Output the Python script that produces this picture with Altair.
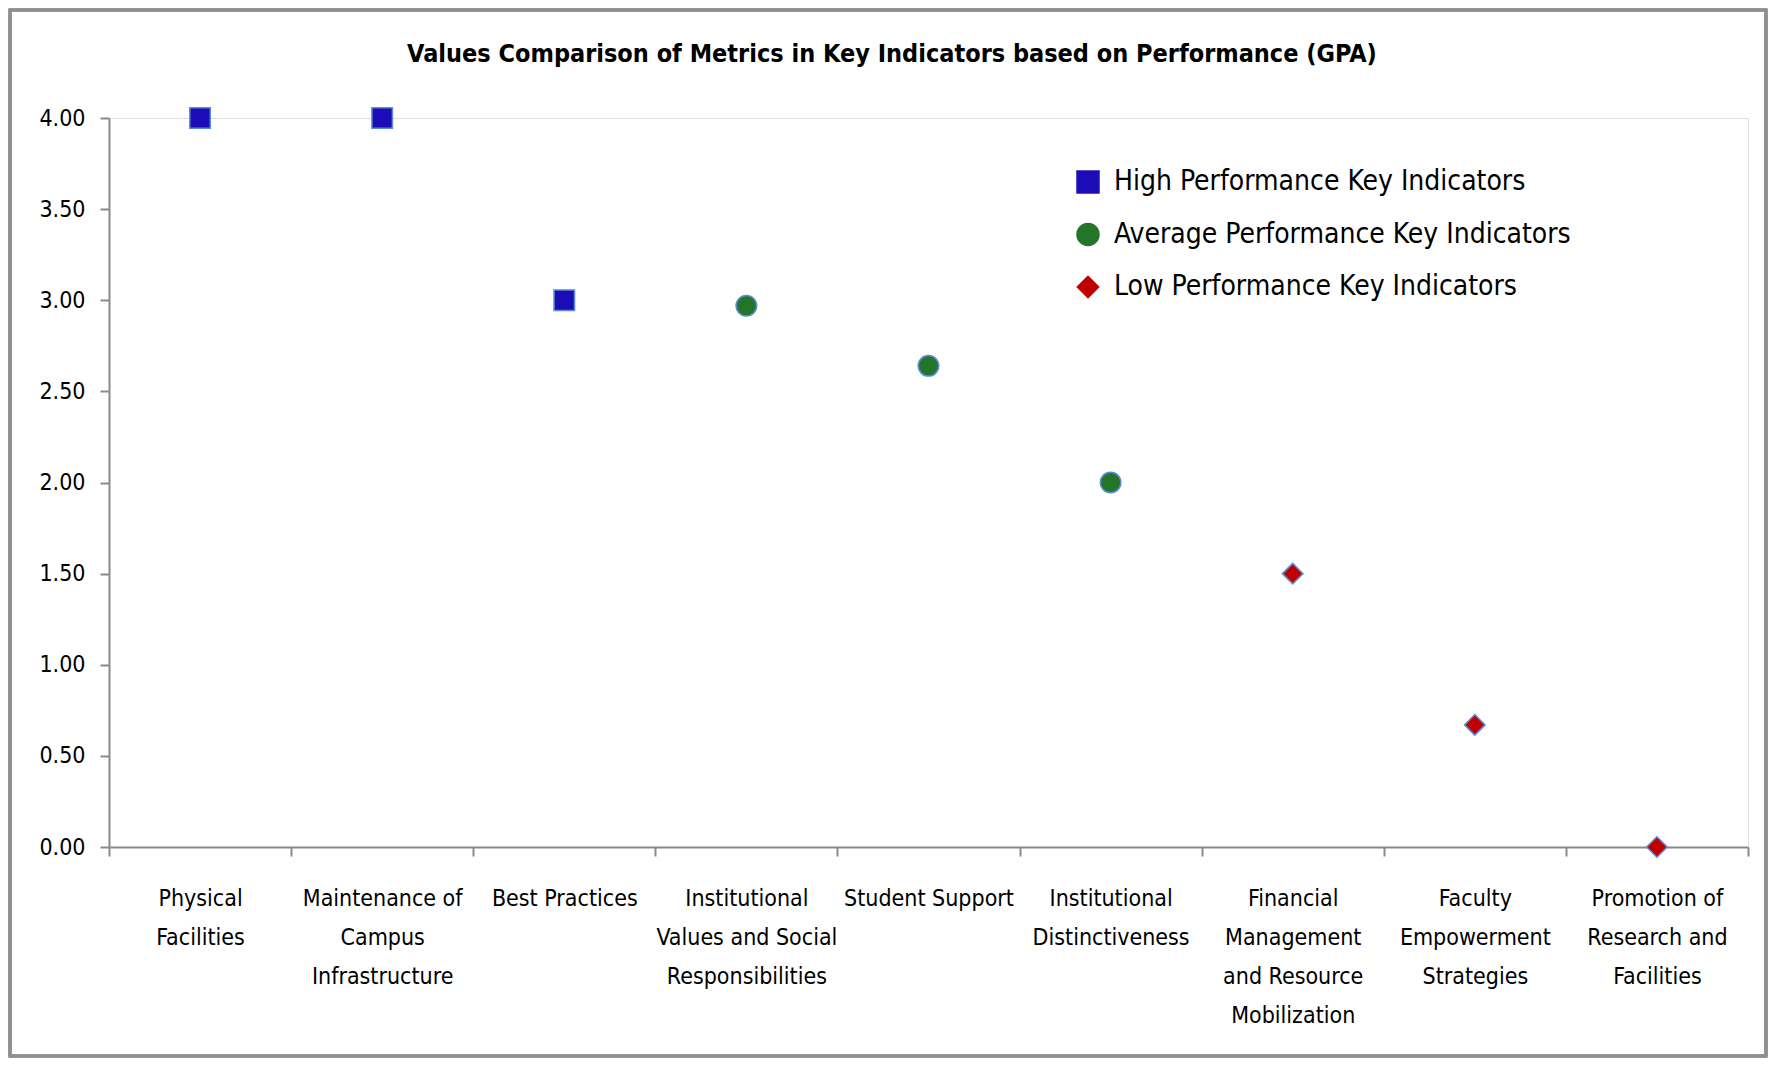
import altair as alt
import pandas as pd

title_text = "Values Comparison of Metrics in Key Indicators based on Performance (GPA)"
categories = [
    "Physical|Facilities",
    "Maintenance of|Campus|Infrastructure",
    "Best Practices",
    "Institutional|Values and Social|Responsibilities",
    "Student Support",
    "Institutional|Distinctiveness",
    "Financial|Management|and Resource|Mobilization",
    "Faculty|Empowerment|Strategies",
    "Promotion of|Research and|Facilities",
]
values = [4.00, 4.00, 3.00, 2.97, 2.64, 2.00, 1.50, 0.67, 0.00]
groups = [
    "High Performance Key Indicators",
    "High Performance Key Indicators",
    "High Performance Key Indicators",
    "Average Performance Key Indicators",
    "Average Performance Key Indicators",
    "Average Performance Key Indicators",
    "Low Performance Key Indicators",
    "Low Performance Key Indicators",
    "Low Performance Key Indicators",
]
series_names = [
    "High Performance Key Indicators",
    "Average Performance Key Indicators",
    "Low Performance Key Indicators",
]
series_colors = ["#1C0CB8", "#23752A", "#C00000"]
series_shapes = ["square", "circle", "diamond"]
y_ticks = [0, 0.5, 1, 1.5, 2, 2.5, 3, 3.5, 4]

df = pd.DataFrame({"category": categories, "value": values, "group": groups})
title_df = pd.DataFrame({"t": [title_text]})

NARROW = "'DejaVu Sans Condensed', sans-serif"
W, H = 1639, 729

points = alt.Chart(df).mark_point(
    filled=True, size=420, stroke="#5B8BD0", strokeWidth=1.5, opacity=1
).encode(
    x=alt.X(
        "category:N",
        sort=categories,
        scale=alt.Scale(type="band", paddingInner=0, paddingOuter=0),
        axis=alt.Axis(
            title=None,
            labelAngle=0,
            tickBand="extent",
            labelExpr="split(datum.label, '|')",
            labelFont=NARROW,
            labelFontSize=23,
            labelLineHeight=39,
            labelColor="black",
            labelPadding=31,
            labelBaseline="top",
            labelLimit=400,
            tickSize=9,
            tickColor="#8a8a8a",
            tickWidth=2,
            domainColor="#8a8a8a",
            domainWidth=2,
            grid=False,
        ),
    ),
    y=alt.Y(
        "value:Q",
        scale=alt.Scale(domain=[0, 4], nice=False, zero=True),
        axis=alt.Axis(
            title=None,
            values=y_ticks,
            format=".2f",
            labelFont=NARROW,
            labelFontSize=23,
            labelColor="black",
            labelPadding=15,
            tickSize=9,
            tickColor="#8a8a8a",
            tickWidth=2,
            domainColor="#8a8a8a",
            domainWidth=2,
            grid=False,
        ),
    ),
    color=alt.Color(
        "group:N",
        scale=alt.Scale(domain=series_names, range=series_colors),
        legend=alt.Legend(
            title=None,
            orient="none",
            legendX=965,
            legendY=50,
            labelFont=NARROW,
            labelFontSize=28,
            labelColor="black",
            symbolSize=550,
            symbolStrokeWidth=0,
            labelOffset=12,
            rowPadding=24.5,
            padding=0,
            labelLimit=600,
        ),
    ),
    shape=alt.Shape(
        "group:N",
        scale=alt.Scale(domain=series_names, range=series_shapes),
        legend=None,
    ),
)

frame = alt.Chart(df).mark_rect(
    fillOpacity=0, stroke="#8f8f8f", strokeWidth=2.5, clip=False
).encode(
    x=alt.value(-99),
    x2=alt.value(1657),
    y=alt.value(-108),
    y2=alt.value(938),
)

title = alt.Chart(title_df).mark_text(
    font=NARROW,
    fontSize=25,
    fontWeight="bold",
    color="black",
    align="center",
    baseline="middle",
    clip=False,
).encode(
    text="t:N",
    x=alt.value(783),
    y=alt.value(-64),
)

chart = alt.layer(frame, title, points).properties(
    width=W,
    height=H,
    padding={"left": 101, "top": 110, "right": 20, "bottom": 211},
    autosize=alt.AutoSizeParams(type="none"),
).configure_view(stroke=None).configure(background="white")

chart.save("out.html", embed_options={"renderer": "svg", "actions": False})
